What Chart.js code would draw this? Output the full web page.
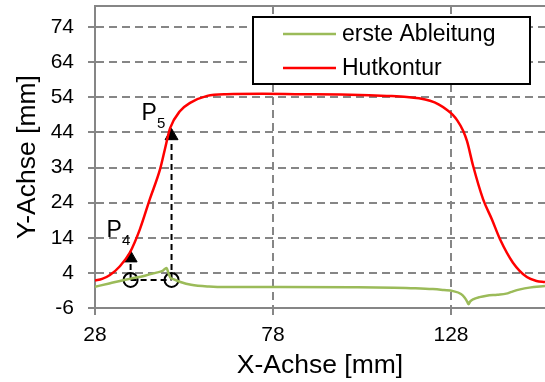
<!DOCTYPE html>
<html>
<head>
<meta charset="utf-8">
<script src="https://cdn.jsdelivr.net/npm/chart.js@4/dist/chart.umd.min.js"></script>
<style>
html, body { margin: 0; padding: 0; background: #fff; }
#wrap { width: 545px; height: 382px; position: relative; }
</style>
</head>
<body>
<div id="wrap"><canvas id="myChart"></canvas></div>
<script>
// Achsen
const xTicks = [28, 78, 128];
const yTicks = [-6, 4, 14, 24, 34, 44, 54, 64, 74];

// Hutkontur
const konturX = [28, 30, 32.2, 35, 37.8, 40.6, 43.4, 46.3, 47.7, 49.1, 51.9, 54.7, 59.5, 65, 75, 85, 97, 105, 110, 115.6, 119, 122.1, 124.5, 126.9, 128.5, 129.7, 131.4, 132.5, 134.2, 137, 139.5, 141.8, 145.4, 149.3, 152, 154.4];
const konturY = [1.8, 2.3, 3.4, 5.9, 9.8, 16.4, 25, 33.6, 39.5, 45.2, 50.1, 52.4, 54.4, 54.9, 55.0, 54.9, 54.8, 54.6, 54.4, 54.1, 53.7, 53.0, 52.0, 50.4, 49.0, 47.5, 44.5, 41.5, 34.5, 25, 19.2, 13.5, 6.9, 2.8, 1.7, 1.4];

// erste Ableitung
const ableitungX = [28, 32, 35, 37.8, 42, 45, 47, 48.1, 48.6, 49.2, 50, 52, 55, 60, 65, 80, 100, 112, 118, 122.9, 126, 128.6, 130.8, 131.8, 132.5, 132.9, 133.4, 134.5, 136, 138, 141, 143.5, 145, 147.4, 150, 154.4];
const ableitungY = [0.05, 1.0, 1.7, 2.3, 3.2, 4.0, 4.6, 5.4, 4.0, 2.6, 2.2, 1.4, 0.6, 0.1, -0.05, -0.05, -0.1, -0.2, -0.35, -0.6, -0.9, -1.2, -2.0, -3.0, -4.1, -4.9, -4.1, -3.4, -2.9, -2.5, -2.2, -1.9, -1.4, -0.7, -0.2, 0.25];

// Punkte P4 / P5
const pNames = ['4', '5'];
const pX = [38.0, 49.5];
const pBaseY = [2.0, 2.0];
const pArrowY = [8.2, 43.0];

const FONT = "'Liberation Sans', Arial, sans-serif";
const GRID = '#868686';

const toPts = (xs, ys) => xs.map((x, i) => ({x: x, y: ys[i]}));

const annotationSets = [];
pX.forEach((x, i) => {
	annotationSets.push({
		label: 'v' + i,
		data: [{x: x, y: pBaseY[i]}, {x: x, y: pArrowY[i]}],
		borderColor: '#000', borderWidth: 2, borderDash: [6, 4],
		pointRadius: 0, fill: false
	});
});
annotationSets.push({
	label: 'h',
	data: pX.map((x, i) => ({x: x, y: pBaseY[i]})),
	borderColor: '#000', borderWidth: 2, borderDash: [6, 4],
	pointRadius: 0, fill: false
});
annotationSets.push({
	label: 'kreise',
	data: pX.map((x, i) => ({x: x, y: pBaseY[i]})),
	showLine: false, pointStyle: 'circle', pointRadius: 7,
	borderColor: '#000', borderWidth: 2, backgroundColor: 'rgba(0,0,0,0)'
});
annotationSets.push({
	label: 'pfeile',
	data: pX.map((x, i) => ({x: x, y: pArrowY[i]})),
	showLine: false, pointStyle: 'triangle', pointRadius: 7.5,
	borderColor: '#000', borderWidth: 1, backgroundColor: '#000'
});

const labelOffsets = [[-24, -21], [-30, -16]];

// keine Zusatzraender fuer Randbeschriftungen
const noPad = s => { s.paddingTop = 0; s.paddingBottom = 0; s.paddingLeft = 0; s.paddingRight = 0; };

const overlay = {
	id: 'overlay',
	beforeDatasetsDraw(chart) {
		const {ctx, chartArea} = chart;
		ctx.save();
		ctx.strokeStyle = GRID;
		ctx.lineWidth = 2;
		ctx.beginPath();
		ctx.moveTo(chartArea.left, chartArea.top);
		ctx.lineTo(chartArea.right, chartArea.top);
		ctx.stroke();
		ctx.restore();
	},
	afterDatasetsDraw(chart) {
		const {ctx, chartArea, scales} = chart;
		ctx.save();
		ctx.fillStyle = '#000';
		ctx.textBaseline = 'alphabetic';
		pX.forEach((x, i) => {
			const px = scales.x.getPixelForValue(x) + labelOffsets[i][0];
			const py = scales.y.getPixelForValue(pArrowY[i]) + labelOffsets[i][1];
			ctx.font = '23px ' + FONT;
			ctx.fillText('P', px, py);
			const w = ctx.measureText('P').width;
			ctx.font = '15px ' + FONT;
			ctx.fillText(pNames[i], px + w, py + 8);
		});

		// Legende
		const l = chartArea.right - 292, t = chartArea.top + 11, w = 277, h = 67;
		ctx.fillStyle = '#fff';
		ctx.fillRect(l, t, w, h);
		ctx.strokeStyle = '#000';
		ctx.lineWidth = 2;
		ctx.strokeRect(l, t, w, h);
		ctx.font = '23px ' + FONT;
		ctx.textBaseline = 'middle';
		[0, 1].forEach(i => {
			const ds = chart.data.datasets[i];
			const y = t + 17 + i * 34;
			ctx.strokeStyle = ds.borderColor;
			ctx.lineWidth = 2.5;
			ctx.beginPath();
			ctx.moveTo(l + 30, y);
			ctx.lineTo(l + 83, y);
			ctx.stroke();
			ctx.fillStyle = '#000';
			ctx.fillText(ds.label, l + 89, y + 1);
		});
		ctx.restore();
	}
};

const chart = new Chart(document.getElementById('myChart'), {
	type: 'line',
	data: {
		datasets: [
			{
				label: 'erste Ableitung',
				data: toPts(ableitungX, ableitungY),
				borderColor: '#9bbb59', borderWidth: 2.5,
				pointRadius: 0, cubicInterpolationMode: 'monotone'
			},
			{
				label: 'Hutkontur',
				data: toPts(konturX, konturY),
				borderColor: '#ff0000', borderWidth: 2.5,
				pointRadius: 0, cubicInterpolationMode: 'monotone'
			}
		].concat(annotationSets)
	},
	options: {
		responsive: true,
		maintainAspectRatio: false,
		animation: false,
		layout: {autoPadding: false, padding: {top: 6, right: 0, left: 0, bottom: 0}},
		plugins: {legend: {display: false}, tooltip: {enabled: false}},
		scales: {
			x: {
				type: 'linear',
				min: 28, max: 154.4,
				afterBuildTicks: s => { s.ticks = xTicks.map(v => ({value: v})); },
				afterFit: s => { s.height = 74; noPad(s); },
				grid: {color: GRID, lineWidth: 2, tickLength: 7, tickColor: GRID, tickWidth: 2},
				border: {color: GRID, width: 2, dash: [8, 5]},
				ticks: {color: '#000', font: {family: FONT, size: 21}, padding: 8, maxRotation: 0},
				title: {display: true, text: 'X-Achse [mm]', color: '#000', font: {family: FONT, size: 26.5}, padding: {top: 0, bottom: 0}}
			},
			y: {
				min: -6, max: 80,
				afterBuildTicks: s => { s.ticks = yTicks.map(v => ({value: v})); },
				afterFit: s => { s.width = 95; noPad(s); },
				grid: {color: GRID, lineWidth: 2, tickLength: 7, tickColor: GRID, tickWidth: 2},
				border: {color: GRID, width: 2, dash: [8, 5]},
				ticks: {color: '#000', font: {family: FONT, size: 21}, padding: 14},
				title: {display: true, text: 'Y-Achse [mm]', color: '#000', font: {family: FONT, size: 26.5}, padding: {top: 12, bottom: 0}}
			}
		}
	},
	plugins: [overlay]
});
</script>
</body>
</html>
